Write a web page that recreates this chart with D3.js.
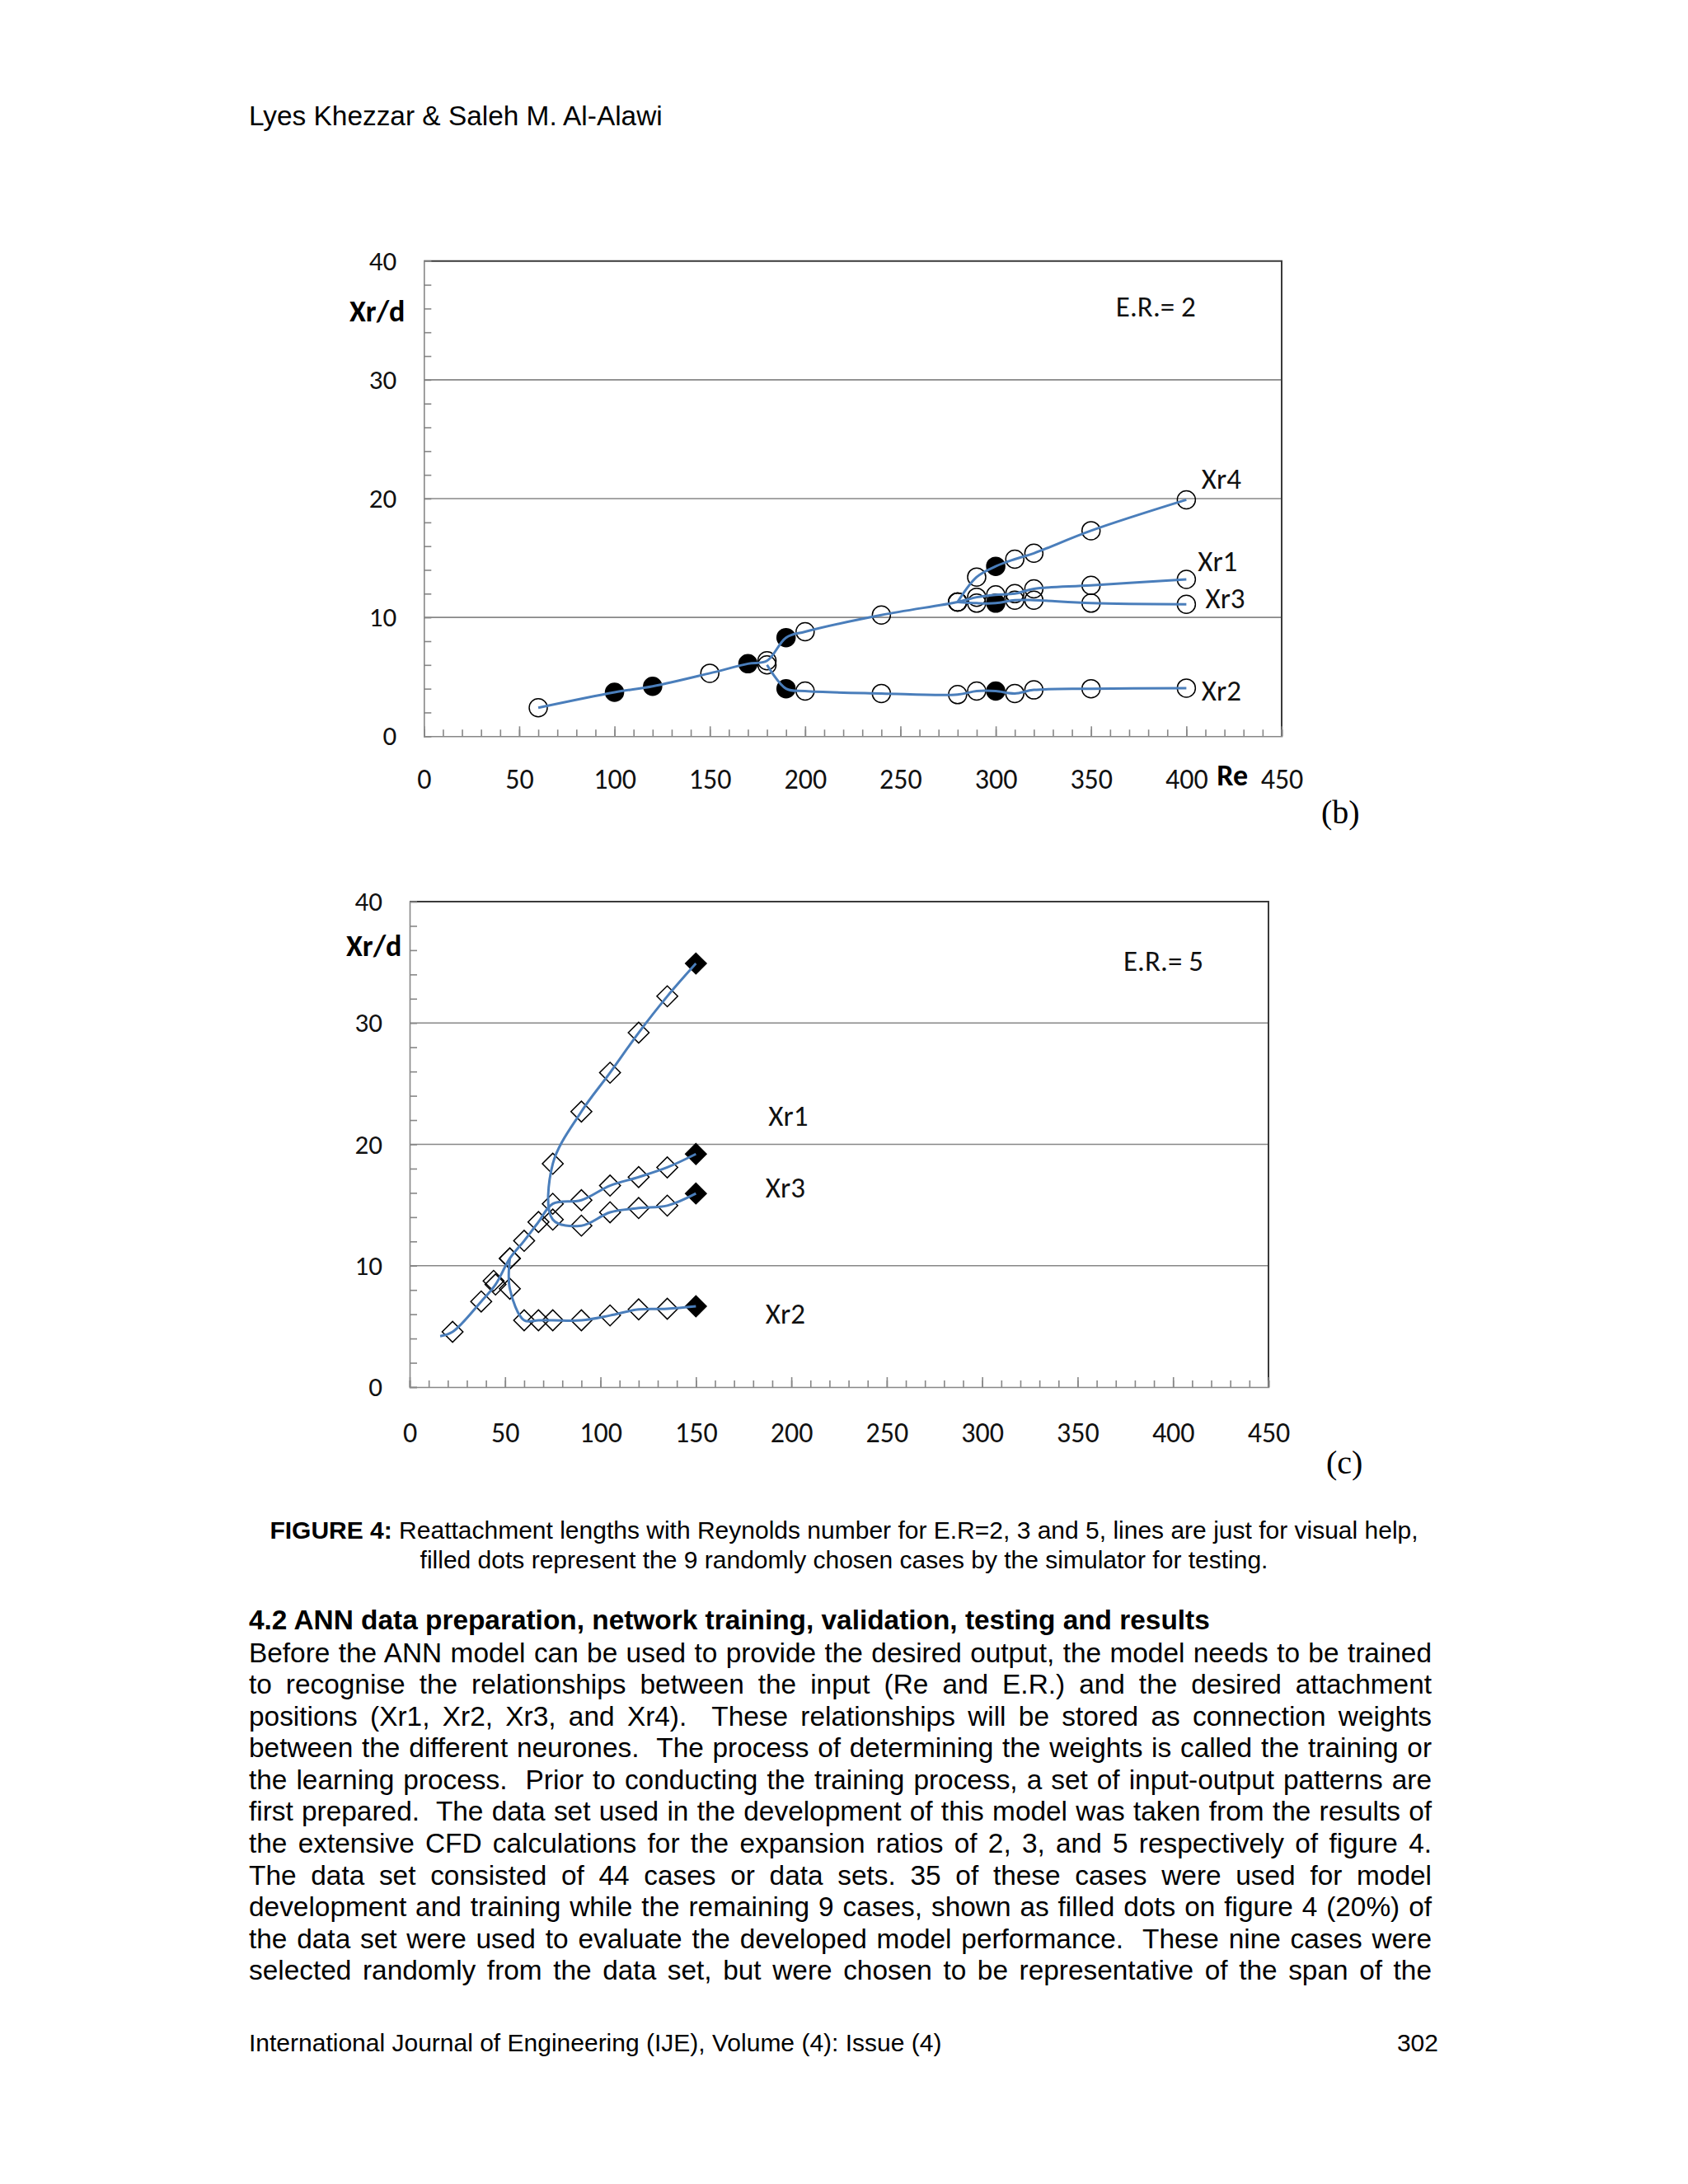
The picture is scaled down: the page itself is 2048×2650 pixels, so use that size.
<!DOCTYPE html>
<html>
<head>
<meta charset="utf-8">
<style>
  body { margin: 0; background: #fff; }
  svg { display: block; }
</style>
</head>
<body>
<svg width="2048" height="2650"></svg>
<script src="https://cdn.jsdelivr.net/npm/d3@7/dist/d3.min.js"></script>
<script>

// ---- E.R. = 2 (circles) ----
var er2Xr1Re = [60, 100, 120, 150, 170, 180, 190, 200, 240, 280, 290, 300, 310, 320, 350, 400],
    er2Xr1   = [2.4, 3.7, 4.2, 5.3, 6.1, 6.35, 8.3, 8.8, 10.2, 11.3, 11.7, 11.9, 12.0, 12.4, 12.7, 13.2],
    er2Xr1Test = [100, 120, 170, 190];

var er2Xr2Re = [180, 190, 200, 240, 280, 290, 300, 310, 320, 350, 400],
    er2Xr2   = [6.0, 4.0, 3.8, 3.6, 3.5, 3.8, 3.8, 3.6, 3.9, 4.0, 4.05],
    er2Xr2Test = [190, 300];

var er2Xr3Re = [280, 290, 300, 310, 320, 350, 400],
    er2Xr3   = [11.3, 11.2, 11.2, 11.45, 11.45, 11.2, 11.1],
    er2Xr3Test = [300];

var er2Xr4Re = [280, 290, 300, 310, 320, 350, 400],
    er2Xr4   = [11.3, 13.4, 14.3, 14.9, 15.4, 17.3, 19.9],
    er2Xr4Test = [300];

// ---- E.R. = 5 (diamonds) ----
var er5LeadRe = [16],
    er5Lead   = [4.2];

var er5MainRe = [22.5, 37.5, 45, 52.5, 60, 67.5, 75, 90, 105, 120, 135, 150],
    er5Main   = [4.55, 7.05, 8.45, 10.6, 12.05, 13.6, 15.1, 15.4, 16.6, 17.3, 18.1, 19.2],
    er5MainTest = [150];

var er5Xr1Re = [150, 135, 120, 105, 90, 75, 75, 90, 105, 120, 135, 150],
    er5Xr1   = [34.9, 32.2, 29.2, 25.9, 22.7, 18.4, 13.8, 13.3, 14.4, 14.75, 14.95, 15.95],
    er5Xr1Test = [150];

var er5Xr2Re = [52.5, 52.5, 60, 67.5, 75, 90, 105, 120, 135, 150],
    er5Xr2   = [10.6, 8.1, 5.5, 5.5, 5.5, 5.5, 5.9, 6.4, 6.45, 6.65],
    er5Xr2Test = [150];

var er5SingleRe = [44],
    er5Single   = [8.75];

var xTickLabels = [0, 50, 100, 150, 200, 250, 300, 350, 400, 450],
    yTickLabels = [0, 10, 20, 30, 40];

var svg = d3.select("svg");
var chartFont = "Carlito, Calibri, Lato, sans-serif",
    lineBlue = "#4a7ebb";

function pts(re, v, test) {
  return re.map(function(r, i) {
    return {re: r, v: v[i], test: test ? test.indexOf(r) >= 0 : false};
  });
}

function drawChart(cfg) {
  var x = d3.scaleLinear().domain([0, 450]).range([cfg.left, cfg.right]),
      y = d3.scaleLinear().domain([0, 40]).range([cfg.bottom, cfg.top]);
  var g = svg.append("g");

  // gridlines
  g.append("g").selectAll("line")
    .data([10, 20, 30])
    .enter().append("line")
      .attr("x1", cfg.left).attr("x2", cfg.right)
      .attr("y1", y).attr("y2", y)
      .attr("stroke", "#878787").attr("stroke-width", 1.6);

  // plot frame (top + right)
  g.append("path")
    .attr("d", "M" + cfg.left + "," + y(40) + "H" + cfg.right + "V" + y(0))
    .attr("fill", "none").attr("stroke", "#3a3a3a").attr("stroke-width", 2);

  // y axis: minor ticks inside, labels every 10
  g.append("g")
    .attr("transform", "translate(" + cfg.left + ",0)")
    .call(d3.axisLeft(y).tickValues(d3.range(0, 41, 2)).tickSize(-9).tickFormat(""))
    .call(function(a) { a.selectAll("line, path").attr("stroke", "#878787").attr("stroke-width", 1.6); });
  g.append("g")
    .attr("transform", "translate(" + cfg.left + ",0)")
    .call(d3.axisLeft(y).tickValues(yTickLabels).tickSize(0).tickPadding(33))
    .call(function(a) {
      a.select(".domain").remove();
      a.selectAll("text").attr("font-family", chartFont).attr("font-size", 33).attr("fill", "#111");
    });

  // x axis: minor every 10, major every 50
  g.append("g")
    .attr("transform", "translate(0," + cfg.bottom + ")")
    .call(d3.axisBottom(x).tickValues(d3.range(0, 451, 10)).tickSize(-8).tickFormat(""))
    .call(function(a) { a.selectAll("line, path").attr("stroke", "#878787").attr("stroke-width", 1.6); });
  g.append("g")
    .attr("transform", "translate(0," + cfg.bottom + ")")
    .call(d3.axisBottom(x).tickValues(xTickLabels).tickSize(-12))
    .call(function(a) {
      a.select(".domain").remove();
      a.selectAll("line").attr("stroke", "#878787").attr("stroke-width", 1.6);
      a.selectAll("text").attr("y", cfg.xBase).attr("dy", 0)
        .attr("font-family", chartFont).attr("font-size", 34).attr("fill", "#111");
    });

  // axis titles
  g.append("text")
    .attr("x", cfg.yTitle[0]).attr("y", cfg.yTitle[1])
    .attr("font-family", chartFont).attr("font-weight", "bold").attr("font-size", 36)
    .text("Xr/d");
  if (cfg.xTitle) {
    g.append("text")
      .attr("x", x(cfg.xTitle[0])).attr("y", cfg.xTitle[1])
      .attr("font-family", chartFont).attr("font-weight", "bold").attr("font-size", 36)
      .text("Re");
  }

  // markers first, lines on top
  var mk = g.append("g");
  var diamond = d3.symbol(d3.symbolSquare, 320)(),
      circle = d3.symbol(d3.symbolCircle, Math.PI * 11 * 11)();
  cfg.series.forEach(function(s) {
    mk.append("g").selectAll("path").data(s.points.filter(function(d) { return !d.hide; }))
      .enter().append("path")
        .attr("transform", function(d) { return "translate(" + x(d.re) + "," + y(d.v) + ")" + (cfg.shape === "diamond" ? " rotate(45)" : ""); })
        .attr("d", cfg.shape === "diamond" ? diamond : circle)
        .attr("fill", function(d) { return d.test ? "#000" : "none"; })
        .attr("stroke", "#000").attr("stroke-width", 1.5);
  });
  (cfg.extra || []).forEach(function(p) {
    mk.append("path")
      .attr("transform", "translate(" + x(p.re) + "," + y(p.v) + ") rotate(45)")
      .attr("d", diamond)
      .attr("fill", "none").attr("stroke", "#000").attr("stroke-width", 1.5);
  });

  var line = d3.line()
    .x(function(d) { return x(d.re); })
    .y(function(d) { return y(d.v); })
    .curve(d3.curveCatmullRom.alpha(0.5));
  g.append("g").selectAll("path")
    .data(cfg.series)
    .enter().append("path")
      .attr("d", function(s) { return line(s.points); })
      .attr("fill", "none").attr("stroke", lineBlue).attr("stroke-width", 3);

  // annotations
  g.append("g").selectAll("text")
    .data(cfg.labels)
    .enter().append("text")
      .attr("x", function(d) { return x(d[1]); })
      .attr("y", function(d) { return y(d[2]); })
      .attr("font-family", chartFont).attr("font-size", 35).attr("fill", "#111")
      .text(function(d) { return d[0]; });
}

// chart (b)
drawChart({
  left: 514.3, right: 1555, top: 316.7, bottom: 893.3, xBase: 64,
  shape: "circle",
  yTitle: [424, 390],
  xTitle: [416, 953],
  series: [
    {points: pts(er2Xr1Re, er2Xr1, er2Xr1Test)},
    {points: pts(er2Xr2Re, er2Xr2, er2Xr2Test)},
    {points: pts(er2Xr3Re, er2Xr3, er2Xr3Test)},
    {points: pts(er2Xr4Re, er2Xr4, er2Xr4Test)}
  ],
  labels: [["E.R.= 2", 363, 35.3], ["Xr4", 408, 20.8], ["Xr1", 406, 13.9], ["Xr3", 410, 10.8], ["Xr2", 408, 3.0]]
});

// chart (c)
var lead = pts(er5LeadRe, er5Lead).map(function(d) { d.hide = true; return d; });
drawChart({
  left: 497, right: 1539, top: 1094, bottom: 1683, xBase: 67,
  shape: "diamond",
  yTitle: [420, 1160],
  series: [
    {points: lead.concat(pts(er5MainRe, er5Main, er5MainTest))},
    {points: pts(er5Xr1Re, er5Xr1).map(function(d, i) { d.test = (i === 0 || i === er5Xr1Re.length - 1); return d; })},
    {points: pts(er5Xr2Re, er5Xr2, er5Xr2Test)}
  ],
  extra: pts(er5SingleRe, er5Single),
  labels: [["E.R.= 5", 374, 34.3], ["Xr1", 188, 21.5], ["Xr3", 186.5, 15.6], ["Xr2", 186.5, 5.2]]
});

// ---- page text ----
var sans = "'Liberation Sans', Arial, Helvetica, sans-serif",
    serif = "'Liberation Serif', 'Times New Roman', serif";

svg.append("text").attr("x", 302).attr("y", 152)
  .attr("font-family", sans).attr("font-size", 33.4).text("Lyes Khezzar & Saleh M. Al-Alawi");

svg.append("text").attr("x", 1603).attr("y", 999)
  .attr("font-family", serif).attr("font-size", 40).text("(b)");
svg.append("text").attr("x", 1609).attr("y", 1788)
  .attr("font-family", serif).attr("font-size", 40).text("(c)");

var cap1 = svg.append("text").attr("x", 1024).attr("y", 1867)
  .attr("text-anchor", "middle").attr("font-family", sans).attr("font-size", 30);
cap1.append("tspan").attr("font-weight", "bold").text("FIGURE 4: ");
cap1.append("tspan").text("Reattachment lengths with Reynolds number for E.R=2, 3 and 5, lines are just for visual help,");
svg.append("text").attr("x", 1024).attr("y", 1902.5)
  .attr("text-anchor", "middle").attr("font-family", sans).attr("font-size", 30)
  .text("filled dots represent the 9 randomly chosen cases by the simulator for testing.");

svg.append("text").attr("x", 302).attr("y", 1977)
  .attr("font-family", sans).attr("font-weight", "bold").attr("font-size", 33.4)
  .text("4.2 ANN data preparation, network training, validation, testing and results");

var bodyLines = [
  "Before the ANN model can be used to provide the desired output, the model needs to be trained",
  "to recognise the relationships between the input (Re and E.R.) and the desired attachment",
  "positions (Xr1, Xr2, Xr3, and Xr4).  These relationships will be stored as connection weights",
  "between the different neurones.  The process of determining the weights is called the training or",
  "the learning process.  Prior to conducting the training process, a set of input-output patterns are",
  "first prepared.  The data set used in the development of this model was taken from the results of",
  "the extensive CFD calculations for the expansion ratios of 2, 3, and 5 respectively of figure 4.",
  "The data set consisted of 44 cases or data sets. 35 of these cases were used for model",
  "development and training while the remaining 9 cases, shown as filled dots on figure 4 (20%) of",
  "the data set were used to evaluate the developed model performance.  These nine cases were",
  "selected randomly from the data set, but were chosen to be representative of the span of the"
];
var bodyLeft = 302, bodyRight = 1737;
svg.append("g").selectAll("text")
  .data(bodyLines)
  .enter().append("text")
    .attr("x", bodyLeft)
    .attr("y", function(d, i) { return 2016.7 + i * 38.55; })
    .attr("font-family", sans).attr("font-size", 33.4)
    .style("white-space", "pre")
    .text(function(d) { return d; })
    .each(function(d) {
      var w = this.getComputedTextLength(),
          spaces = (d.match(/ /g) || []).length;
      if (spaces) d3.select(this).attr("word-spacing", (bodyRight - bodyLeft - w) / spaces);
    });

svg.append("text").attr("x", 302).attr("y", 2489)
  .attr("font-family", sans).attr("font-size", 30)
  .text("International Journal of Engineering (IJE), Volume (4): Issue (4)");
svg.append("text").attr("x", 1745).attr("y", 2489).attr("text-anchor", "end")
  .attr("font-family", sans).attr("font-size", 30).text("302");

</script>
</body>
</html>
